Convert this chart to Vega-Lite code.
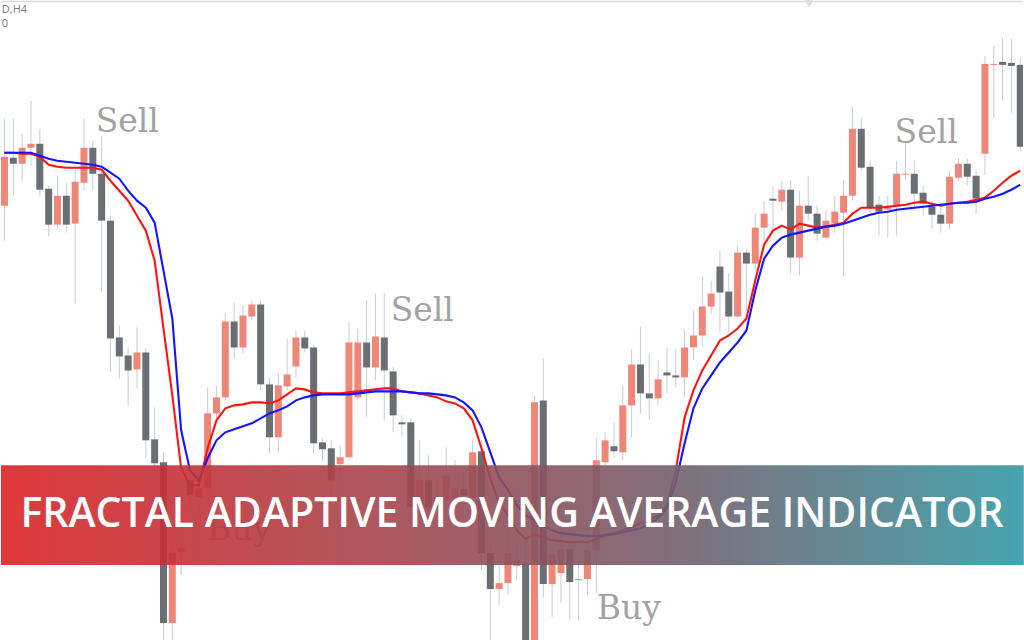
{
  "$schema": "https://vega.github.io/schema/vega-lite/v6.json",
  "width": 1024,
  "height": 640,
  "autosize": {"type": "fit", "contains": "padding"},
  "padding": 0,
  "background": "#ffffff",
  "config": {"view": {"stroke": null}, "scale": {"continuousPadding": 0}},
  "datasets": {
    "candles": [
      {"i":0,"open":435,"high":522,"low":400,"close":484,"fast":488,"slow":488},
      {"i":1,"open":483,"high":522,"low":445,"close":477,"fast":488,"slow":488},
      {"i":2,"open":477,"high":507,"low":460,"close":493,"fast":487,"slow":488},
      {"i":3,"open":493,"high":540,"low":475,"close":497,"fast":487,"slow":488},
      {"i":4,"open":497,"high":512,"low":445,"close":451,"fast":484,"slow":485},
      {"i":5,"open":452,"high":455,"low":404,"close":416,"fast":476,"slow":482},
      {"i":6,"open":416,"high":465,"low":412,"close":445,"fast":474,"slow":480},
      {"i":7,"open":445,"high":458,"low":408,"close":416,"fast":473,"slow":479},
      {"i":8,"open":417,"high":470,"low":337,"close":459,"fast":473,"slow":478},
      {"i":9,"open":458,"high":522,"low":450,"close":493,"fast":473,"slow":477},
      {"i":10,"open":493,"high":500,"low":450,"close":467,"fast":473,"slow":476},
      {"i":11,"open":467,"high":505,"low":349,"close":420,"fast":471,"slow":474},
      {"i":12,"open":420,"high":425,"low":268,"close":302,"fast":460,"slow":468},
      {"i":13,"open":303,"high":315,"low":262,"close":284,"fast":450,"slow":462},
      {"i":14,"open":285,"high":293,"low":235,"close":270,"fast":440,"slow":450},
      {"i":15,"open":271,"high":313,"low":252,"close":288,"fast":425,"slow":440},
      {"i":16,"open":288,"high":293,"low":183,"close":200,"fast":410,"slow":433},
      {"i":17,"open":201,"high":233,"low":170,"close":177,"fast":380,"slow":418},
      {"i":18,"open":178,"high":188,"low":0,"close":17,"fast":312,"slow":370},
      {"i":19,"open":17,"high":93,"low":0,"close":87,"fast":245,"slow":322},
      {"i":20,"open":88,"high":100,"low":65,"close":92,"fast":172,"slow":210},
      {"i":21,"open":160,"high":170,"low":135,"close":145,"fast":155,"slow":170},
      {"i":22,"open":143,"high":162,"low":130,"close":152,"fast":155,"slow":160},
      {"i":23,"open":152,"high":253,"low":145,"close":227,"fast":192,"slow":182},
      {"i":24,"open":227,"high":255,"low":220,"close":243,"fast":220,"slow":200},
      {"i":25,"open":243,"high":328,"low":240,"close":319,"fast":232,"slow":208},
      {"i":26,"open":319,"high":338,"low":282,"close":293,"fast":235,"slow":211},
      {"i":27,"open":293,"high":335,"low":287,"close":325,"fast":236,"slow":214},
      {"i":28,"open":324,"high":340,"low":320,"close":336,"fast":238,"slow":217},
      {"i":29,"open":336,"high":340,"low":250,"close":256,"fast":238,"slow":222},
      {"i":30,"open":256,"high":263,"low":187,"close":203,"fast":237,"slow":227},
      {"i":31,"open":203,"high":267,"low":187,"close":255,"fast":240,"slow":230},
      {"i":32,"open":254,"high":302,"low":250,"close":266,"fast":246,"slow":234},
      {"i":33,"open":274,"high":310,"low":263,"close":303,"fast":252,"slow":240},
      {"i":34,"open":303,"high":310,"low":288,"close":292,"fast":251,"slow":243},
      {"i":35,"open":293,"high":295,"low":187,"close":197,"fast":248,"slow":245},
      {"i":36,"open":198,"high":202,"low":180,"close":191,"fast":247,"slow":246},
      {"i":37,"open":192,"high":200,"low":140,"close":160,"fast":247,"slow":246},
      {"i":38,"open":176,"high":195,"low":165,"close":183,"fast":247,"slow":246},
      {"i":39,"open":183,"high":318,"low":180,"close":298,"fast":248,"slow":246},
      {"i":40,"open":243,"high":312,"low":240,"close":298,"fast":249,"slow":247},
      {"i":41,"open":298,"high":340,"low":223,"close":273,"fast":250,"slow":248},
      {"i":42,"open":273,"high":347,"low":260,"close":304,"fast":251,"slow":249},
      {"i":43,"open":303,"high":347,"low":220,"close":270,"fast":252,"slow":249},
      {"i":44,"open":269,"high":274,"low":208,"close":225,"fast":252,"slow":249},
      {"i":45,"open":218,"high":225,"low":204,"close":216,"fast":249,"slow":249},
      {"i":46,"open":218,"high":222,"low":113,"close":133,"fast":248,"slow":248},
      {"i":47,"open":135,"high":200,"low":123,"close":160,"fast":247,"slow":247},
      {"i":48,"open":160,"high":185,"low":120,"close":133,"fast":245,"slow":247},
      {"i":49,"open":143,"high":160,"low":125,"close":137,"fast":243,"slow":246},
      {"i":50,"open":140,"high":193,"low":130,"close":165,"fast":239,"slow":245},
      {"i":51,"open":143,"high":180,"low":135,"close":152,"fast":237,"slow":243},
      {"i":52,"open":151,"high":170,"low":135,"close":145,"fast":232,"slow":238},
      {"i":53,"open":143,"high":200,"low":135,"close":188,"fast":220,"slow":230},
      {"i":54,"open":189,"high":200,"low":70,"close":87,"fast":192,"slow":213},
      {"i":55,"open":87,"high":95,"low":0,"close":51,"fast":162,"slow":188},
      {"i":56,"open":51,"high":75,"low":35,"close":57,"fast":137,"slow":163},
      {"i":57,"open":57,"high":120,"low":45,"close":87,"fast":125,"slow":150},
      {"i":58,"open":74,"high":100,"low":60,"close":80,"fast":110,"slow":135},
      {"i":59,"open":77,"high":95,"low":-10,"close":-5,"fast":101,"slow":125},
      {"i":60,"open":-5,"high":245,"low":-10,"close":238,"fast":106,"slow":120},
      {"i":61,"open":240,"high":282,"low":42,"close":56,"fast":103,"slow":114},
      {"i":62,"open":56,"high":95,"low":23,"close":85,"fast":100,"slow":110},
      {"i":63,"open":67,"high":110,"low":37,"close":91,"fast":99,"slow":107},
      {"i":64,"open":91,"high":100,"low":20,"close":58,"fast":98,"slow":106},
      {"i":65,"open":60,"high":83,"low":20,"close":61,"fast":98,"slow":105},
      {"i":66,"open":61,"high":115,"low":45,"close":90,"fast":98,"slow":104},
      {"i":67,"open":90,"high":203,"low":47,"close":180,"fast":101,"slow":104},
      {"i":68,"open":178,"high":208,"low":175,"close":200,"fast":105,"slow":105},
      {"i":69,"open":194,"high":218,"low":183,"close":189,"fast":107,"slow":106},
      {"i":70,"open":188,"high":255,"low":180,"close":235,"fast":110,"slow":108},
      {"i":71,"open":235,"high":291,"low":203,"close":276,"fast":113,"slow":110},
      {"i":72,"open":276,"high":314,"low":227,"close":247,"fast":117,"slow":112},
      {"i":73,"open":247,"high":287,"low":220,"close":242,"fast":120,"slow":116},
      {"i":74,"open":242,"high":280,"low":235,"close":261,"fast":125,"slow":122},
      {"i":75,"open":268,"high":293,"low":247,"close":265,"fast":135,"slow":132},
      {"i":76,"open":265,"high":292,"low":253,"close":263,"fast":170,"slow":158},
      {"i":77,"open":263,"high":311,"low":243,"close":293,"fast":223,"slow":197},
      {"i":78,"open":293,"high":330,"low":280,"close":305,"fast":250,"slow":232},
      {"i":79,"open":305,"high":364,"low":293,"close":334,"fast":270,"slow":252},
      {"i":80,"open":334,"high":360,"low":327,"close":347,"fast":285,"slow":265},
      {"i":81,"open":374,"high":390,"low":308,"close":348,"fast":300,"slow":278},
      {"i":82,"open":349,"high":367,"low":308,"close":324,"fast":305,"slow":288},
      {"i":83,"open":324,"high":395,"low":323,"close":388,"fast":312,"slow":298},
      {"i":84,"open":388,"high":392,"low":330,"close":377,"fast":322,"slow":310},
      {"i":85,"open":377,"high":427,"low":370,"close":413,"fast":360,"slow":350},
      {"i":86,"open":413,"high":440,"low":400,"close":427,"fast":396,"slow":382},
      {"i":87,"open":442,"high":455,"low":410,"close":440,"fast":410,"slow":395},
      {"i":88,"open":439,"high":460,"low":430,"close":451,"fast":415,"slow":403},
      {"i":89,"open":451,"high":460,"low":367,"close":383,"fast":411,"slow":406},
      {"i":90,"open":383,"high":450,"low":365,"close":435,"fast":417,"slow":408},
      {"i":91,"open":435,"high":465,"low":420,"close":427,"fast":415,"slow":410},
      {"i":92,"open":427,"high":435,"low":400,"close":407,"fast":413,"slow":412},
      {"i":93,"open":403,"high":430,"low":402,"close":420,"fast":414,"slow":414},
      {"i":94,"open":417,"high":445,"low":408,"close":429,"fast":416,"slow":415},
      {"i":95,"open":428,"high":460,"low":364,"close":445,"fast":418,"slow":417},
      {"i":96,"open":445,"high":534,"low":440,"close":512,"fast":427,"slow":420},
      {"i":97,"open":512,"high":523,"low":470,"close":473,"fast":433,"slow":423},
      {"i":98,"open":474,"high":480,"low":425,"close":433,"fast":433,"slow":426},
      {"i":99,"open":436,"high":445,"low":405,"close":429,"fast":433,"slow":428},
      {"i":100,"open":431,"high":445,"low":403,"close":435,"fast":434,"slow":429},
      {"i":101,"open":434,"high":480,"low":405,"close":467,"fast":435,"slow":431},
      {"i":102,"open":466,"high":500,"low":460,"close":467,"fast":436,"slow":432},
      {"i":103,"open":467,"high":481,"low":433,"close":447,"fast":438,"slow":433},
      {"i":104,"open":448,"high":455,"low":425,"close":437,"fast":439,"slow":434},
      {"i":105,"open":434,"high":440,"low":412,"close":426,"fast":437,"slow":435},
      {"i":106,"open":426,"high":435,"low":408,"close":417,"fast":435,"slow":436},
      {"i":107,"open":417,"high":470,"low":411,"close":464,"fast":437,"slow":437},
      {"i":108,"open":463,"high":483,"low":460,"close":477,"fast":438,"slow":438},
      {"i":109,"open":477,"high":482,"low":455,"close":464,"fast":439,"slow":438},
      {"i":110,"open":465,"high":470,"low":427,"close":442,"fast":441,"slow":439},
      {"i":111,"open":487,"high":585,"low":466,"close":577,"fast":443,"slow":442},
      {"i":112,"open":576,"high":595,"low":523,"close":577,"fast":450,"slow":444},
      {"i":113,"open":579,"high":603,"low":541,"close":576,"fast":458,"slow":447},
      {"i":114,"open":578,"high":602,"low":528,"close":575,"fast":465,"slow":451},
      {"i":115,"open":576,"high":582,"low":490,"close":494,"fast":470,"slow":456}
    ],
    "notes": [
      {"label": "Sell", "x": 13.9, "y": 509},
      {"label": "Sell", "x": 47.3, "y": 320},
      {"label": "Sell", "x": 104.35, "y": 498},
      {"label": "Buy", "x": 70.68, "y": 21},
      {"label": "Buy", "x": 26.6, "y": 100}
    ],
    "banner": [
      {"x": -0.4, "x2": 115.4, "y": 175, "y2": 75, "title": "FRACTAL ADAPTIVE MOVING AVERAGE INDICATOR", "tx": 57.46, "ty": 125}
    ],
    "header": [
      {"label": "D,H4", "x": -0.3, "y": 628},
      {"label": "0", "x": -0.3, "y": 614}
    ],
    "frame": [
      {"top": 639.5, "x": 91.1, "y": 637}
    ]
  },
  "layer": [
    {
      "data": {"name": "frame"},
      "mark": {"type": "rule", "stroke": "#dddddd", "strokeWidth": 1.5},
      "encoding": {
        "y": {"field": "top", "type": "quantitative", "scale": {"domain": [0, 640], "nice": false, "zero": false, "padding": 0}, "axis": null}
      }
    },
    {
      "data": {"name": "frame"},
      "mark": {"type": "point", "shape": "triangle-down", "filled": true, "fill": "#dcdcdc", "size": 70, "opacity": 1},
      "encoding": {
        "x": {"field": "x", "type": "quantitative", "scale": {"domain": [-0.395, 115.31], "nice": false, "zero": false, "padding": 0}, "axis": null},
        "y": {"field": "y", "type": "quantitative"}
      }
    },
    {
      "data": {"name": "candles"},
      "mark": {"type": "rule", "stroke": "#c8ccd8", "strokeWidth": 1, "clip": true},
      "encoding": {
        "x": {"field": "i", "type": "quantitative"},
        "y": {"field": "low", "type": "quantitative"},
        "y2": {"field": "high"}
      }
    },
    {
      "data": {"name": "candles"},
      "mark": {"type": "bar", "size": 7, "orient": "vertical", "clip": true},
      "encoding": {
        "x": {"field": "i", "type": "quantitative"},
        "y": {"field": "open", "type": "quantitative"},
        "y2": {"field": "close"},
        "color": {
          "condition": {"test": "datum.open < datum.close", "value": "#ee8777"},
          "value": "#6b6e73"
        }
      }
    },
    {
      "data": {"name": "candles"},
      "mark": {"type": "line", "stroke": "#ff1414", "strokeWidth": 2.1, "clip": true},
      "encoding": {
        "x": {"field": "i", "type": "quantitative"},
        "y": {"field": "fast", "type": "quantitative"}
      }
    },
    {
      "data": {"name": "candles"},
      "mark": {"type": "line", "stroke": "#1414ff", "strokeWidth": 2.1, "clip": true},
      "encoding": {
        "x": {"field": "i", "type": "quantitative"},
        "y": {"field": "slow", "type": "quantitative"}
      }
    },
    {
      "data": {"name": "notes"},
      "mark": {"type": "text", "font": "DejaVu Serif", "fontSize": 33, "fill": "#a2a2a2", "align": "center", "baseline": "alphabetic"},
      "encoding": {
        "x": {"field": "x", "type": "quantitative"},
        "y": {"field": "y", "type": "quantitative"},
        "text": {"field": "label"}
      }
    },
    {
      "data": {"name": "banner"},
      "mark": {
        "type": "rect",
        "opacity": 0.9,
        "fill": {
          "gradient": "linear", "x1": 0, "y1": 0, "x2": 1, "y2": 0,
          "stops": [
            {"offset": 0, "color": "#dc2226"},
            {"offset": 0.35, "color": "#a8434b"},
            {"offset": 0.65, "color": "#745e6b"},
            {"offset": 1, "color": "#3399a6"}
          ]
        }
      },
      "encoding": {
        "x": {"field": "x", "type": "quantitative"},
        "x2": {"field": "x2"},
        "y": {"field": "y", "type": "quantitative"},
        "y2": {"field": "y2"}
      }
    },
    {
      "data": {"name": "banner"},
      "mark": {"type": "text", "font": "Open Sans", "fontWeight": 600, "fontSize": 41, "fill": "#ffffff", "align": "center", "baseline": "middle"},
      "encoding": {
        "x": {"field": "tx", "type": "quantitative"},
        "y": {"field": "ty", "type": "quantitative"},
        "text": {"field": "title"}
      }
    },
    {
      "data": {"name": "header"},
      "mark": {"type": "text", "font": "Open Sans", "fontSize": 11, "fill": "#7a7a7a", "align": "left", "baseline": "alphabetic"},
      "encoding": {
        "x": {"field": "x", "type": "quantitative"},
        "y": {"field": "y", "type": "quantitative"},
        "text": {"field": "label"}
      }
    }
  ]
}
